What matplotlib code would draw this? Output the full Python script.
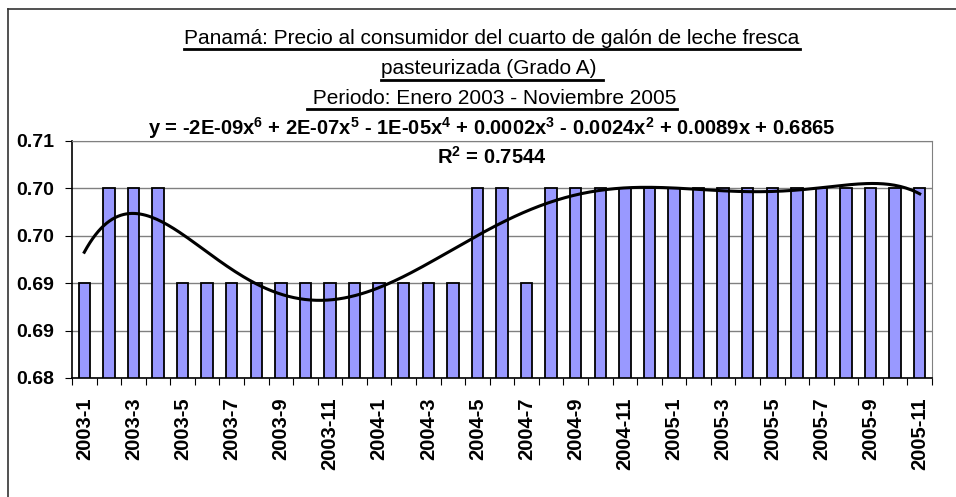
import matplotlib
matplotlib.use('Agg')
import matplotlib.pyplot as plt
from matplotlib.lines import Line2D
import numpy as np

plt.rcParams['font.family'] = ['Liberation Sans', 'DejaVu Sans']
plt.rcParams['mathtext.fontset'] = 'custom'
plt.rcParams['mathtext.bf'] = 'Liberation Sans:bold'
plt.rcParams['mathtext.default'] = 'bf'

# monthly price, Jan 2003 - Nov 2005
months = ['2003-1', '2003-2', '2003-3', '2003-4', '2003-5', '2003-6', '2003-7',
          '2003-8', '2003-9', '2003-10', '2003-11', '2003-12',
          '2004-1', '2004-2', '2004-3', '2004-4', '2004-5', '2004-6', '2004-7',
          '2004-8', '2004-9', '2004-10', '2004-11', '2004-12',
          '2005-1', '2005-2', '2005-3', '2005-4', '2005-5', '2005-6', '2005-7',
          '2005-8', '2005-9', '2005-10', '2005-11']
prices = [0.69, 0.70, 0.70, 0.70, 0.69, 0.69, 0.69, 0.69, 0.69, 0.69, 0.69, 0.69,
          0.69, 0.69, 0.69, 0.69, 0.70, 0.70, 0.69, 0.70, 0.70, 0.70, 0.70, 0.70,
          0.70, 0.70, 0.70, 0.70, 0.70, 0.70, 0.70, 0.70, 0.70, 0.70, 0.70]
ytick_values = [0.680, 0.685, 0.690, 0.695, 0.700, 0.705]
ytick_labels = ['0.68', '0.69', '0.69', '0.70', '0.70', '0.71']

title_lines = ['Panamá: Precio al consumidor del cuarto de galón de leche fresca',
               'pasteurizada (Grado A) ',
               ' Periodo: Enero 2003 - Noviembre 2005']
equation = ('y = -2E-09x$^{6}$ + 2E-07x$^{5}$ - 1E-05x$^{4}$ + 0.0002x$^{3}$'
            ' - 0.0024x$^{2}$ + 0.0089x + 0.6865')
r2_text = 'R$^{2}$ = 0.7544'

W, H = 956, 497
fig = plt.figure(figsize=(W / 100, H / 100), dpi=100)
ax = fig.add_axes([72 / W, 1 - 378 / H, (932 - 72) / W, (378 - 141) / H])

x = np.arange(len(months))
ax.bar(x, prices, width=0.47, color='#9999ff', edgecolor='black', linewidth=1.3, zorder=2)

# 6th order polynomial trend (Excel x starts at 1)
xs = x + 1
coef = np.polyfit(xs, prices, 6)
xf = np.linspace(1, len(months), 300)
ax.plot(xf - 1, np.polyval(coef, xf), color='black', linewidth=2.2, zorder=3)

ax.set_xlim(-0.5, len(months) - 0.5)
ax.set_ylim(0.68, 0.705)
ax.set_yticks(ytick_values)
ax.set_yticklabels(ytick_labels, fontsize=14, fontweight='bold')
ax.yaxis.grid(True, color='#808080', linewidth=1, zorder=0)
ax.set_axisbelow(True)

ax.set_xticks(np.arange(-0.5, len(months), 1))
ax.set_xticklabels([])
ax.set_xticks(x[::2], minor=True)
ax.set_xticklabels(months[::2], minor=True, rotation=90, fontsize=14.5, fontweight='bold')
ax.tick_params(axis='x', which='minor', length=0, pad=14)
ax.tick_params(axis='x', which='major', length=5, direction='out')
ax.tick_params(axis='y', length=5, direction='out', pad=8)

for s in ['top', 'right']:
    ax.spines[s].set_color('#808080')
for s in ['left', 'bottom']:
    ax.spines[s].set_color('black')
    ax.spines[s].set_linewidth(1.2)

cx = 492 / W
texts = []
for line, ypix in zip(title_lines, [38, 68, 98]):
    t = fig.text(cx, 1 - ypix / H, line, ha='center', va='center', fontsize=15)
    texts.append(t)
fig.text(cx, 1 - 128 / H, equation, ha='center', va='center', fontsize=14.5, fontweight='bold')
fig.text(cx, 1 - 157 / H, r2_text, ha='center', va='center', fontsize=14.5, fontweight='bold')

# underline the title lines
fig.canvas.draw()
renderer = fig.canvas.get_renderer()
for t, upix in zip(texts, [49, 80, 109]):
    bb = t.get_window_extent(renderer).transformed(fig.transFigure.inverted())
    fig.add_artist(Line2D([bb.x0, bb.x1], [1 - upix / H, 1 - upix / H],
                          color='black', linewidth=2))

# outer chart border (only top and left visible)
fig.add_artist(Line2D([8 / W, 8 / W], [0, 1 - 9 / H], color='#333333', linewidth=1.2))
fig.add_artist(Line2D([8 / W, 1], [1 - 9 / H, 1 - 9 / H], color='#333333', linewidth=1.2))

fig.savefig('out.png', dpi=100)
